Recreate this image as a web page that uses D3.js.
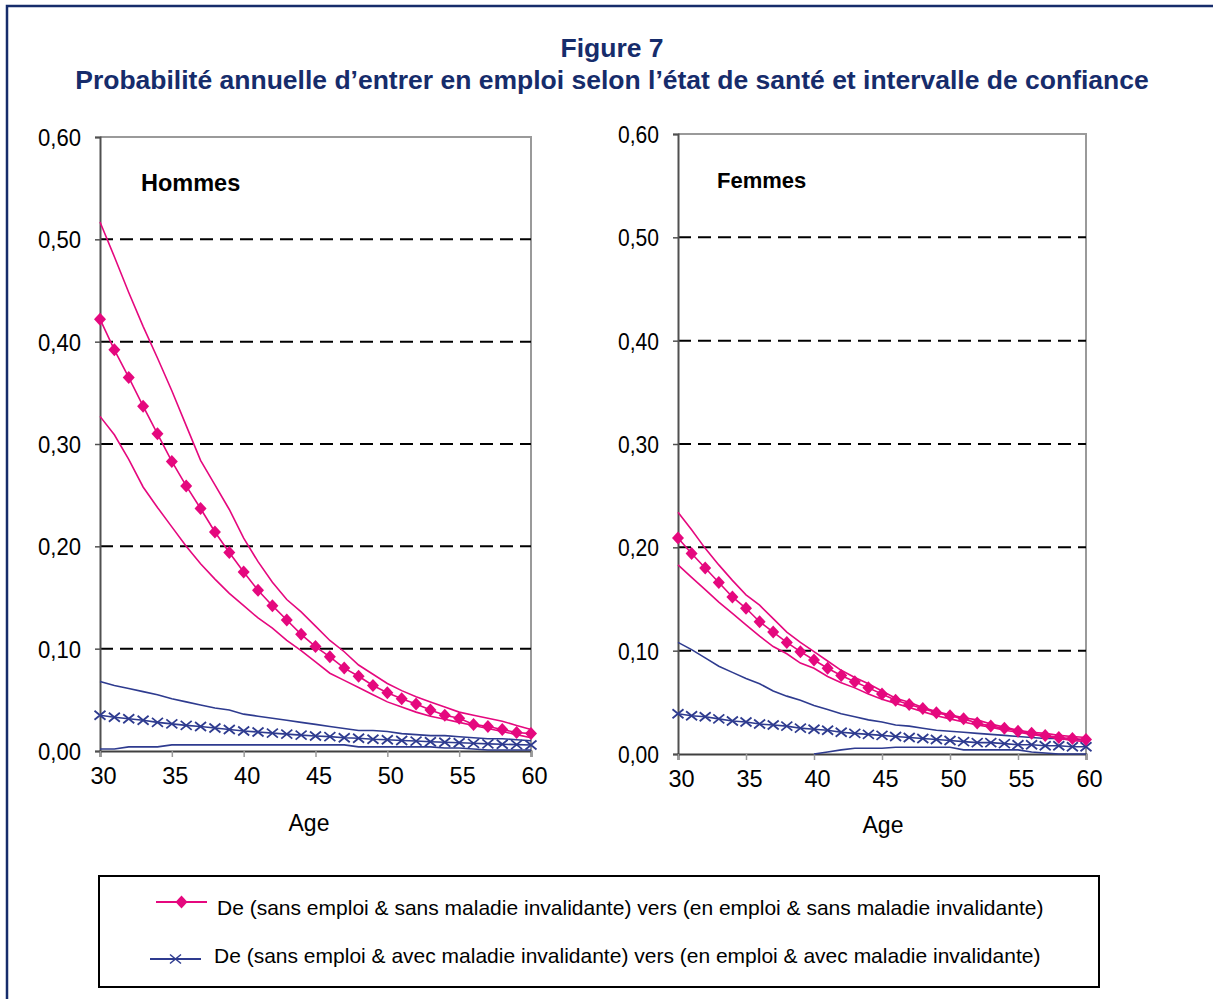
<!DOCTYPE html>
<html lang="fr">
<head>
<meta charset="utf-8">
<title>Figure 7</title>
<script src="https://cdn.jsdelivr.net/npm/d3@7/dist/d3.min.js"></script>
<style>
  html, body { margin: 0; padding: 0; background: #ffffff; }
  svg { display: block; font-family: "Liberation Sans", Arial, sans-serif; }
</style>
</head>
<body>
<svg id="chart" width="1213" height="999"></svg>
<script>
// Âges (abscisse)
const ages = [30,31,32,33,34,35,36,37,38,39,40,41,42,43,44,45,46,47,48,49,50,51,52,53,54,55,56,57,58,59,60];

// Hommes : sans maladie invalidante -> en emploi (estimation et intervalle de confiance)
const hommesSans     = [0.422,0.392,0.365,0.337,0.310,0.283,0.259,0.237,0.214,0.194,0.175,0.157,0.142,0.128,0.114,0.102,0.092,0.081,0.073,0.064,0.057,0.051,0.046,0.040,0.035,0.032,0.026,0.024,0.021,0.018,0.017];
const hommesSansHaut = [0.517,0.483,0.448,0.415,0.384,0.352,0.318,0.284,0.260,0.236,0.208,0.185,0.165,0.148,0.136,0.122,0.108,0.097,0.084,0.075,0.066,0.059,0.053,0.048,0.043,0.038,0.035,0.032,0.029,0.025,0.021];
const hommesSansBas  = [0.327,0.309,0.285,0.258,0.238,0.219,0.200,0.183,0.168,0.154,0.142,0.130,0.120,0.108,0.098,0.087,0.076,0.069,0.062,0.055,0.048,0.043,0.038,0.034,0.031,0.028,0.025,0.022,0.019,0.016,0.013];

// Hommes : avec maladie invalidante -> en emploi
const hommesAvec     = [0.035,0.033,0.0315,0.030,0.028,0.0265,0.025,0.024,0.0225,0.021,0.0195,0.0185,0.0175,0.0165,0.0155,0.0147,0.014,0.013,0.0125,0.0115,0.011,0.0103,0.0097,0.009,0.0085,0.008,0.0075,0.007,0.0066,0.0062,0.0058];
const hommesAvecHaut = [0.068,0.064,0.061,0.058,0.055,0.051,0.048,0.045,0.042,0.040,0.036,0.034,0.032,0.030,0.028,0.026,0.024,0.022,0.020,0.020,0.019,0.017,0.016,0.015,0.015,0.014,0.013,0.012,0.012,0.011,0.010];
const hommesAvecBas  = [0.002,0.002,0.004,0.004,0.004,0.006,0.006,0.006,0.006,0.006,0.006,0.006,0.006,0.006,0.006,0.006,0.006,0.006,0.004,0.004,0.004,0.004,0.004,0.004,0.003,0.003,0.002,0.001,0.001,0.001,0.001];

// Femmes : sans maladie invalidante -> en emploi
const femmesSans     = [0.209,0.194,0.180,0.166,0.152,0.141,0.128,0.118,0.108,0.099,0.091,0.083,0.076,0.070,0.064,0.058,0.052,0.048,0.044,0.040,0.037,0.034,0.030,0.027,0.025,0.022,0.020,0.018,0.016,0.015,0.014];
const femmesSansHaut = [0.234,0.217,0.199,0.183,0.168,0.154,0.144,0.131,0.118,0.108,0.099,0.090,0.081,0.074,0.068,0.061,0.054,0.050,0.045,0.041,0.038,0.035,0.033,0.029,0.026,0.023,0.021,0.020,0.018,0.017,0.016];
const femmesSansBas  = [0.183,0.171,0.159,0.147,0.136,0.125,0.114,0.104,0.097,0.088,0.083,0.075,0.069,0.064,0.058,0.053,0.049,0.045,0.041,0.037,0.034,0.031,0.028,0.026,0.023,0.021,0.019,0.017,0.015,0.013,0.012];

// Femmes : avec maladie invalidante -> en emploi (borne basse nulle/négative avant 40 ans, non tracée)
const femmesAvec     = [0.039,0.037,0.036,0.034,0.032,0.031,0.029,0.028,0.027,0.025,0.024,0.023,0.021,0.020,0.019,0.018,0.017,0.016,0.015,0.014,0.013,0.012,0.011,0.011,0.010,0.009,0.009,0.008,0.008,0.007,0.007];
const femmesAvecHaut = [0.108,0.101,0.093,0.085,0.079,0.073,0.068,0.061,0.056,0.052,0.047,0.043,0.039,0.036,0.033,0.031,0.028,0.027,0.025,0.023,0.022,0.021,0.020,0.019,0.018,0.017,0.016,0.015,0.015,0.014,0.0135];
const femmesAvecBas  = [null,null,null,null,null,null,null,null,null,null,0.000,0.002,0.004,0.0055,0.0055,0.0055,0.0065,0.0065,0.0065,0.0065,0.0065,0.004,0.004,0.004,0.004,0.004,0.002,0.001,0.000,0.000,0.000];

// Graduations
const yTicks = [0, 0.1, 0.2, 0.3, 0.4, 0.5, 0.6];
const xTicks = [30, 35, 40, 45, 50, 55, 60];

const titre1 = "Figure 7";
const titre2 = "Probabilité annuelle d’entrer en emploi selon l’état de santé et intervalle de confiance";
const legendeSans = "De (sans emploi & sans maladie invalidante) vers (en emploi & sans maladie invalidante)";
const legendeAvec = "De (sans emploi & avec maladie invalidante) vers (en emploi & avec maladie invalidante)";

const ROSE = "#e5087e";
const BLEU = "#2e3b8f";
const NAVY = "#162c6b";
const FONT = '"Liberation Sans", Arial, sans-serif';

const svg = d3.select("#chart");

// Cadre extérieur (côtés droit et bas hors champ)
svg.append("rect")
  .attr("x", 7).attr("y", 6)
  .attr("width", 1230).attr("height", 1020)
  .attr("fill", "none").attr("stroke", NAVY).attr("stroke-width", 2.5);

// Titres
svg.append("text").attr("x", 612).attr("y", 57)
  .attr("text-anchor", "middle").attr("fill", NAVY)
  .style("font-size", "26.5px").style("font-weight", "bold").text(titre1);
svg.append("text").attr("x", 612).attr("y", 89)
  .attr("text-anchor", "middle").attr("fill", NAVY)
  .style("font-size", "26.5px").style("font-weight", "bold").text(titre2);

const diamond = "M0,-6.5L6,0L0,6.5L-6,0Z";
const cross = "M-5.5,-4.5L5.5,4.5M-5.5,4.5L5.5,-4.5";
const fmt = v => d3.format(".2f")(v).replace(".", ",");

const panels = [
  { nom: "Hommes", xr: [100, 531], yr: [751, 137], lab: [141, 191], age: [309, 831], yLabW: 43,
    sans: hommesSans, sansH: hommesSansHaut, sansB: hommesSansBas,
    avec: hommesAvec, avecH: hommesAvecHaut, avecB: hommesAvecBas },
  { nom: "Femmes", xr: [678, 1086], yr: [754, 134], lab: [717, 188], age: [883, 833], yLabW: 41,
    sans: femmesSans, sansH: femmesSansHaut, sansB: femmesSansBas,
    avec: femmesAvec, avecH: femmesAvecHaut, avecB: femmesAvecBas }
];

panels.forEach(p => {
  const x = d3.scaleLinear().domain([30, 60]).range(p.xr);
  const y = d3.scaleLinear().domain([0, 0.6]).range(p.yr);
  const g = svg.append("g");

  // Cadre de la zone de tracé (haut et droite)
  g.append("path")
    .attr("d", `M${p.xr[0]},${p.yr[1]}H${p.xr[1]}V${p.yr[0]}`)
    .attr("fill", "none").attr("stroke", "#9a9a9a").attr("stroke-width", 2);

  // Quadrillage horizontal en tirets
  g.selectAll(".grid").data(yTicks.filter(v => v > 0 && v < 0.6)).enter()
    .append("line")
    .attr("x1", p.xr[0]).attr("x2", p.xr[1])
    .attr("y1", d => y(d)).attr("y2", d => y(d))
    .attr("stroke", "#000").attr("stroke-width", 2)
    .attr("stroke-dasharray", "13,7");

  // Axe des ordonnées
  const yAxis = d3.axisLeft(y).tickValues(yTicks).tickFormat(fmt).tickSize(5).tickPadding(14);
  const ya = g.append("g").attr("transform", `translate(${p.xr[0]},0)`).call(yAxis);
  ya.select(".domain").attr("stroke", "#505050").attr("stroke-width", 2);
  ya.selectAll(".tick line").attr("stroke", "#505050").attr("stroke-width", 1.5);
  ya.selectAll("text").attr("fill", "#000").style("font-size", "24px").style("font-family", FONT)
    .attr("textLength", p.yLabW).attr("lengthAdjust", "spacingAndGlyphs").attr("dy", "0.36em");

  // Axe des abscisses
  const xAxis = d3.axisBottom(x).tickValues(xTicks).tickSize(6).tickPadding(10);
  const xa = g.append("g").attr("transform", `translate(0,${p.yr[0]})`).call(xAxis);
  xa.select(".domain").attr("stroke", "#404040").attr("stroke-width", 2);
  xa.selectAll(".tick line").attr("stroke", "#9a9a9a").attr("stroke-width", 1.5);
  xa.selectAll("text").attr("fill", "#000").style("font-size", "23.5px").style("font-family", FONT)
    .attr("dx", 3);

  g.append("text").attr("x", p.age[0]).attr("y", p.age[1])
    .attr("text-anchor", "middle").style("font-size", "23px").text("Age");

  // Libellé du panneau
  g.append("text").attr("x", p.lab[0]).attr("y", p.lab[1])
    .style("font-size", p.nom === "Hommes" ? "23.5px" : "22px")
    .style("font-weight", "bold").text(p.nom);

  const line = d3.line()
    .defined(d => d[1] !== null)
    .x(d => x(d[0])).y(d => y(d[1]));
  const pts = arr => ages.map((a, i) => [a, arr[i]]);

  // Intervalles de confiance
  [[p.avecH, BLEU], [p.avecB, BLEU], [p.sansH, ROSE], [p.sansB, ROSE]].forEach(([arr, c]) => {
    g.append("path").attr("d", line(pts(arr)))
      .attr("fill", "none").attr("stroke", c).attr("stroke-width", 1.6);
  });

  // Estimations avec marqueurs
  g.append("path").attr("d", line(pts(p.avec)))
    .attr("fill", "none").attr("stroke", BLEU).attr("stroke-width", 1.6);
  g.selectAll(".mx").data(pts(p.avec)).enter().append("path")
    .attr("transform", d => `translate(${x(d[0])},${y(d[1])})`)
    .attr("d", cross).attr("stroke", BLEU).attr("stroke-width", 1.8).attr("fill", "none");

  g.append("path").attr("d", line(pts(p.sans)))
    .attr("fill", "none").attr("stroke", ROSE).attr("stroke-width", 1.6);
  g.selectAll(".md").data(pts(p.sans)).enter().append("path")
    .attr("transform", d => `translate(${x(d[0])},${y(d[1])})`)
    .attr("d", diamond).attr("fill", ROSE);
});

// Légende
const lg = svg.append("g");
lg.append("rect").attr("x", 99).attr("y", 876).attr("width", 1000).attr("height", 111)
  .attr("fill", "#fff").attr("stroke", "#000").attr("stroke-width", 2);

const items = [
  { y: 902, ty: 915, x1: 156, x2: 207, tx: 217, c: ROSE, m: diamond, fill: true, t: legendeSans },
  { y: 959, ty: 963, x1: 150, x2: 201, tx: 214, c: BLEU, m: cross, fill: false, t: legendeAvec }
];
items.forEach(it => {
  lg.append("line").attr("x1", it.x1).attr("x2", it.x2).attr("y1", it.y).attr("y2", it.y)
    .attr("stroke", it.c).attr("stroke-width", 2);
  lg.append("path").attr("transform", `translate(${(it.x1 + it.x2) / 2},${it.y})`)
    .attr("d", it.m)
    .attr("fill", it.fill ? it.c : "none")
    .attr("stroke", it.fill ? "none" : it.c).attr("stroke-width", 1.5);
  lg.append("text").attr("x", it.tx).attr("y", it.ty)
    .style("font-size", "21px").text(it.t);
});
</script>
</body>
</html>
